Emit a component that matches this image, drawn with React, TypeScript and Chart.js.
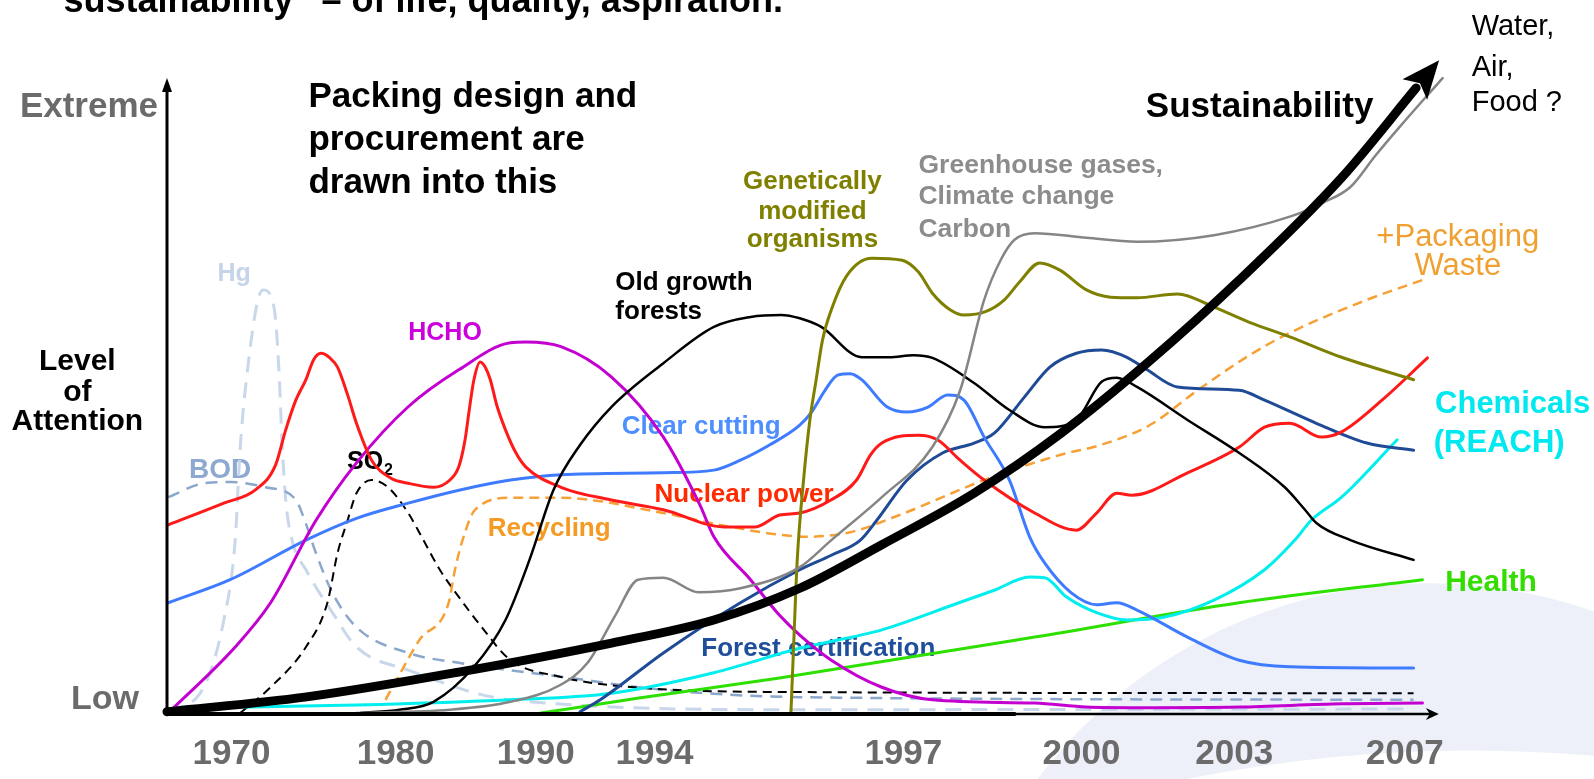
import React, { useEffect, useRef } from "react";
import { Chart, registerables } from "chart.js";
Chart.register(...registerables);

type P = [number, number];

// x = position along the timeline axis (0..100), y = level of attention (0 = low, ~96 = extreme)
const tickPositions = [5.1, 18.1, 29.2, 38.6, 58.3, 72.4, 84.5, 98.0];
const tickLabels = ["1970", "1980", "1990", "1994", "1997", "2000", "2003", "2007"];

const sustainability: P[] = [[0, 0.2], [10.9, 2.4], [23.1, 6.2], [35.2, 10.6], [43.3, 14.1], [50.1, 18.9], [56.6, 25.5], [63.9, 33.3], [70.8, 42.4], [77.6, 53.0], [84.9, 65.6], [93.0, 81.1], [98.9, 94.7]];
const greenhouse: P[] = [[15.0, 0], [22.4, 0.5], [27.2, 1.7], [31.1, 4.2], [33.3, 7.6], [35.5, 14.8], [37.3, 20.2], [39.3, 20.5], [42.1, 18.3], [45.4, 18.9], [50.1, 22.1], [52.6, 26.2], [56.6, 32.7], [60.6, 40.3], [62.8, 48.9], [64.7, 62.6], [66.0, 68.6], [67.1, 71.7], [68.7, 72.7], [72.8, 72.0], [76.8, 71.4], [82.9, 72.4], [88.9, 75.2], [91.5, 77.3], [93.7, 79.7], [95.7, 84.5], [97.6, 88.8], [101.0, 96.2]];
const gmo: P[] = [[49.4, 0], [49.6, 9.5], [49.9, 23.2], [50.4, 35.3], [50.9, 44.4], [51.4, 50.5], [51.9, 56.5], [52.6, 61.1], [53.8, 66.2], [55.8, 68.9], [58.2, 68.6], [59.5, 66.8], [60.6, 63.6], [62.0, 61.1], [63.1, 60.3], [64.8, 60.8], [66.3, 62.6], [67.5, 65.3], [69.1, 68.2], [70.7, 67.1], [72.8, 64.1], [74.7, 63.0], [76.8, 62.9], [80.0, 63.5], [82.9, 61.5], [85.7, 59.2], [88.9, 57.0], [93.0, 53.9], [98.7, 50.5]];
const oldGrowth: P[] = [[15.3, 0], [18.4, 0.5], [21.1, 1.7], [24.3, 7.0], [26.8, 14.1], [28.7, 23.2], [30.6, 33.8], [32.7, 40.6], [35.2, 46.4], [39.3, 53.0], [43.3, 58.5], [46.2, 60.0], [48.6, 60.3], [50.1, 59.8], [51.8, 58.5], [55.0, 53.9], [57.2, 53.9], [59.1, 54.2], [60.6, 53.8], [63.9, 50.0], [66.7, 45.9], [69.5, 43.3], [72.0, 44.4], [74.0, 50.2], [75.2, 50.8], [76.8, 49.4], [80.8, 44.4], [84.9, 39.4], [88.5, 34.2], [90.1, 30.8], [91.0, 28.8], [93.7, 26.2], [98.7, 23.2]];
const nuclear: P[] = [[0.1, 28.5], [4.5, 31.8], [7.0, 33.8], [8.6, 37.6], [9.4, 42.9], [10.2, 47.4], [11.0, 50.5], [11.6, 53.5], [12.2, 54.5], [12.9, 53.8], [13.5, 52.4], [14.3, 48.2], [15.0, 43.9], [16.2, 38.3], [17.7, 35.6], [19.1, 34.8], [21.1, 34.2], [22.4, 35.3], [23.1, 37.3], [23.6, 41.4], [23.9, 45.5], [24.3, 50.5], [24.8, 53.2], [25.2, 52.4], [25.6, 50.5], [26.1, 46.7], [26.8, 42.9], [27.6, 39.5], [28.4, 37.3], [31.2, 34.2], [35.1, 32.3], [39.3, 30.8], [44.1, 28.2], [46.6, 28.2], [48.5, 30.0], [50.1, 30.3], [52.6, 32.3], [54.6, 35.3], [55.7, 39.1], [56.6, 40.9], [59.5, 42.1], [61.0, 41.4], [62.8, 38.3], [64.7, 35.3], [68.7, 30.3], [72.0, 27.7], [73.6, 30.3], [75.2, 33.3], [76.4, 33.0], [80.8, 36.4], [84.9, 40.3], [86.9, 43.3], [88.9, 43.9], [91.4, 41.8], [93.0, 42.6], [96.2, 47.4], [99.8, 53.8]];
const hcho: P[] = [[0.1, 0], [5.4, 10.0], [8.2, 16.7], [11.8, 29.2], [15.0, 37.9], [19.1, 46.4], [23.1, 52.0], [27.2, 56.1], [28.4, 56.2], [31.2, 55.5], [35.2, 50.9], [39.3, 41.8], [42.2, 31.5], [43.3, 26.7], [46.2, 20.2], [48.5, 14.8], [50.1, 11.8], [52.6, 8.0], [56.6, 3.9], [60.6, 2.0], [68.7, 1.5], [72.8, 0.9], [76.8, 0.8], [84.9, 0.9], [93.0, 1.4], [99.4, 1.5]];
const clearCutting: P[] = [[0.1, 16.7], [5.0, 20.2], [11.0, 26.2], [15.0, 29.5], [19.1, 31.8], [23.2, 33.8], [27.2, 35.3], [31.2, 36.1], [39.3, 36.4], [43.3, 36.8], [45.4, 38.3], [47.7, 40.6], [50.1, 43.6], [51.0, 45.5], [52.1, 48.9], [53.1, 51.2], [54.1, 51.4], [55.0, 50.5], [57.0, 46.4], [58.6, 45.6], [60.3, 46.4], [61.8, 48.2], [63.1, 47.4], [64.7, 41.8], [66.7, 35.3], [68.3, 26.7], [69.5, 22.7], [71.6, 18.2], [73.6, 16.4], [75.2, 16.7], [76.8, 15.6], [80.8, 11.5], [84.9, 8.0], [88.9, 7.0], [98.7, 6.8]];
const forestCert: P[] = [[32.7, 0.2], [34.3, 2.0], [39.3, 9.1], [45.4, 16.7], [50.1, 21.7], [52.6, 23.9], [54.9, 26.2], [56.2, 29.2], [58.6, 35.3], [61.4, 39.4], [63.9, 40.9], [65.5, 42.4], [67.9, 47.9], [69.9, 52.4], [72.0, 54.5], [74.0, 55.0], [76.0, 53.9], [77.6, 52.0], [80.0, 49.4], [84.9, 48.9], [86.9, 47.4], [91.0, 43.9], [95.0, 40.9], [98.7, 39.8]];
const chemicals: P[] = [[2.5, 0.8], [15.0, 1.2], [27.2, 2.0], [35.2, 3.0], [43.3, 6.1], [50.1, 9.8], [56.6, 12.6], [62.7, 16.7], [65.5, 18.6], [68.3, 20.6], [69.5, 20.5], [71.2, 17.6], [73.6, 15.2], [76.0, 14.1], [78.9, 14.5], [82.9, 17.1], [86.9, 21.7], [89.3, 26.2], [90.6, 29.2], [93.0, 32.7], [97.4, 41.4]];
const health: P[] = [[29.6, 0], [37.5, 2.3], [48.5, 5.3], [68.7, 11.5], [84.9, 16.7], [99.4, 20.2]];
const recycling: P[] = [[17.3, 2.0], [18.4, 5.8], [20.0, 11.1], [22.3, 16.7], [22.8, 21.7], [23.4, 26.2], [24.4, 30.8], [27.2, 32.6], [31.2, 32.6], [39.3, 30.3], [43.8, 28.5], [48.5, 27.0], [50.6, 26.7], [54.1, 27.4], [58.0, 30.0], [64.7, 35.3], [70.7, 39.1], [73.9, 40.6], [77.8, 43.6], [81.6, 48.9], [85.7, 54.2], [88.9, 57.6], [95.0, 62.6], [99.4, 65.6]];
const so2: P[] = [[5.8, 0], [8.2, 3.9], [11.0, 10.0], [12.7, 16.7], [13.5, 24.2], [14.3, 29.2], [15.0, 33.3], [16.2, 35.3], [17.5, 34.2], [19.1, 30.3], [20.3, 26.2], [21.6, 21.7], [23.1, 17.6], [24.8, 13.3], [27.2, 8.0], [31.1, 5.5], [35.2, 4.2], [47.3, 3.2], [98.7, 3.0]];
const bod: P[] = [[0.1, 32.7], [2.9, 34.8], [5.0, 35.0], [7.8, 34.2], [10.2, 32.3], [10.9, 29.2], [11.8, 24.2], [13.1, 18.2], [15.0, 13.0], [19.1, 9.1], [23.1, 7.6], [31.2, 5.5], [39.3, 3.5], [50.1, 2.4], [98.7, 2.0]];
const hg: P[] = [[0.1, 0.2], [2.9, 3.9], [4.5, 14.1], [5.4, 26.2], [5.8, 40.3], [6.6, 55.5], [7.2, 62.6], [7.6, 64.1], [8.2, 63.3], [8.6, 59.5], [8.9, 50.5], [9.1, 41.4], [9.4, 32.3], [9.9, 26.2], [11.0, 21.7], [13.1, 15.2], [15.0, 10.0], [19.1, 6.5], [27.2, 2.0], [50.1, 0.5], [98.7, 0.6]];

const FONT = '"Liberation Sans", Arial, Helvetica, sans-serif';

const series = [
  { name: "Sustainability", data: sustainability, color: "#000000", width: 9, dash: [] as number[] },
  { name: "Greenhouse gases", data: greenhouse, color: "#858585", width: 2.5, dash: [] },
  { name: "GMO", data: gmo, color: "#7f7f00", width: 3, dash: [] },
  { name: "Old growth forests", data: oldGrowth, color: "#000000", width: 2.5, dash: [] },
  { name: "Nuclear power", data: nuclear, color: "#ff1a1a", width: 3, dash: [] },
  { name: "HCHO", data: hcho, color: "#c300d0", width: 3, dash: [] },
  { name: "Clear cutting", data: clearCutting, color: "#3f7bff", width: 3, dash: [] },
  { name: "Forest certification", data: forestCert, color: "#1f4a96", width: 3, dash: [] },
  { name: "Chemicals", data: chemicals, color: "#00eeee", width: 3, dash: [] },
  { name: "Health", data: health, color: "#2ee000", width: 3, dash: [] },
  { name: "Recycling", data: recycling, color: "#f7a035", width: 2.5, dash: [10, 6] },
  { name: "SO2", data: so2, color: "#000000", width: 2, dash: [9, 6] },
  { name: "BOD", data: bod, color: "#8ba7cc", width: 2.5, dash: [12, 8] },
  { name: "Hg", data: hg, color: "#c9d7ea", width: 3, dash: [16, 10] },
];

type Label = { t: string; x: number; y: number; c: string; s: number; b?: boolean; a?: CanvasTextAlign };
const labels: Label[] = [
  { t: "Extreme", x: -0.71, y: 91.7, c: "#6b6b6b", s: 35, b: true, a: "right" },
  { t: "Low", x: -7.6, y: 2.1, c: "#6b6b6b", s: 34, b: true },
  { t: "Level", x: -7.1, y: 53.2, c: "#000", s: 30, b: true, a: "center" },
  { t: "of", x: -7.1, y: 48.6, c: "#000", s: 30, b: true, a: "center" },
  { t: "Attention", x: -7.1, y: 44.1, c: "#000", s: 30, b: true, a: "center" },
  { t: "Packing design and", x: 11.2, y: 93.3, c: "#000", s: 35, b: true },
  { t: "procurement are", x: 11.2, y: 86.8, c: "#000", s: 35, b: true },
  { t: "drawn into this", x: 11.2, y: 80.3, c: "#000", s: 35, b: true },
  { t: "Sustainability", x: 77.5, y: 91.7, c: "#000", s: 35, b: true },
  { t: "Water,", x: 103.3, y: 103.9, c: "#000", s: 29 },
  { t: "Air,", x: 103.3, y: 97.7, c: "#000", s: 29 },
  { t: "Food ?", x: 103.3, y: 92.4, c: "#000", s: 29 },
  { t: "Hg", x: 4.0, y: 66.5, c: "#c5d4e8", s: 25, b: true },
  { t: "BOD", x: 1.74, y: 36.8, c: "#8ea9cf", s: 28, b: true },
  { t: "HCHO", x: 19.1, y: 57.6, c: "#cc00dd", s: 25, b: true },
  { t: "Old growth", x: 35.5, y: 65.2, c: "#000", s: 26, b: true },
  { t: "forests", x: 35.5, y: 60.8, c: "#000", s: 26, b: true },
  { t: "Genetically", x: 51.1, y: 80.5, c: "#808000", s: 26, b: true, a: "center" },
  { t: "modified", x: 51.1, y: 75.9, c: "#808000", s: 26, b: true, a: "center" },
  { t: "organisms", x: 51.1, y: 71.7, c: "#808000", s: 26, b: true, a: "center" },
  { t: "Greenhouse gases,", x: 59.5, y: 83.0, c: "#8c8c8c", s: 26.5, b: true },
  { t: "Climate change", x: 59.5, y: 78.2, c: "#8c8c8c", s: 26.5, b: true },
  { t: "Carbon", x: 59.5, y: 73.2, c: "#8c8c8c", s: 26.5, b: true },
  { t: "+Packaging", x: 102.2, y: 72.1, c: "#f0a030", s: 31, a: "center" },
  { t: "Waste", x: 102.2, y: 67.6, c: "#f0a030", s: 31, a: "center" },
  { t: "Chemicals", x: 100.4, y: 46.7, c: "#00e8f0", s: 31, b: true },
  { t: "(REACH)", x: 100.3, y: 40.8, c: "#00e8f0", s: 31, b: true },
  { t: "Health", x: 101.2, y: 19.8, c: "#33dd00", s: 30, b: true },
  { t: "Clear cutting", x: 36.0, y: 43.3, c: "#4d8fff", s: 26, b: true },
  { t: "Nuclear power", x: 38.6, y: 33.0, c: "#ff2a00", s: 26, b: true },
  { t: "Recycling", x: 25.4, y: 27.9, c: "#f59a23", s: 26, b: true },
  { t: "Forest certification", x: 42.3, y: 9.7, c: "#1f4e9a", s: 26, b: true },
];

const bgPlugin = {
  id: "bg",
  beforeDraw(chart: any) {
    const { ctx, width, height } = chart;
    const xs = chart.scales.x, ys = chart.scales.y;
    const unit = xs.getPixelForValue(1) - xs.getPixelForValue(0);
    ctx.save();
    ctx.fillStyle = "#ffffff";
    ctx.fillRect(0, 0, width, height);
    // decorative pale crescent in the lower right corner
    ctx.fillStyle = "#edf0f8";
    ctx.beginPath();
    ctx.arc(xs.getPixelForValue(100.0), ys.getPixelForValue(-54.8), 38.9 * unit, 0, Math.PI * 2);
    ctx.fill();
    ctx.fillStyle = "#ffffff";
    ctx.beginPath();
    ctx.arc(xs.getPixelForValue(103.2), ys.getPixelForValue(-220), 112.0 * unit, 0, Math.PI * 2);
    ctx.fill();
    ctx.restore();
  },
  beforeDatasetsDraw(chart: any) {
    const { ctx } = chart;
    const xs = chart.scales.x, ys = chart.scales.y;
    ctx.save();
    ctx.textBaseline = "middle";
    for (const l of labels) {
      ctx.font = `${l.b ? "bold " : ""}${l.s}px ${FONT}`;
      ctx.fillStyle = l.c;
      ctx.textAlign = l.a || "left";
      ctx.fillText(l.t, xs.getPixelForValue(l.x), ys.getPixelForValue(l.y));
    }
    // SO2 with subscript
    ctx.textAlign = "left";
    ctx.fillStyle = "#000";
    ctx.font = `bold 25px ${FONT}`;
    const sx = xs.getPixelForValue(14.25), sy = ys.getPixelForValue(38.0);
    ctx.fillText("SO", sx, sy);
    const w = ctx.measureText("SO").width;
    ctx.font = `bold 16px ${FONT}`;
    ctx.fillText("2", sx + w + 1, sy + 8);
    // clipped headline at the top
    ctx.font = `bold 36px ${FONT}`;
    ctx.textBaseline = "alphabetic";
    ctx.fillText("sustainability\u201D \u2013 of life, quality, aspiration.", xs.getPixelForValue(-8.2), ys.getPixelForValue(106.2));
    ctx.restore();
  },
  afterDatasetsDraw(chart: any) {
    const { ctx } = chart;
    const xs = chart.scales.x, ys = chart.scales.y;
    const x0 = xs.getPixelForValue(0), y0 = ys.getPixelForValue(0) + 1;
    const yTop = ys.getPixelForValue(95.6), xEnd = xs.getPixelForValue(100.7);
    const xMid = xs.getPixelForValue(67.2);
    ctx.save();
    ctx.strokeStyle = "#000";
    ctx.fillStyle = "#000";
    ctx.lineWidth = 3;
    ctx.beginPath();
    ctx.moveTo(x0, y0);
    ctx.lineTo(x0, yTop + 6);
    ctx.stroke();
    ctx.lineWidth = 4;
    ctx.beginPath();
    ctx.moveTo(x0 - 1, y0);
    ctx.lineTo(xMid, y0);
    ctx.stroke();
    ctx.lineWidth = 2.5;
    ctx.beginPath();
    ctx.moveTo(xMid - 2, y0);
    ctx.lineTo(xEnd - 8, y0);
    ctx.stroke();
    ctx.beginPath();
    ctx.moveTo(x0, yTop - 4);
    ctx.lineTo(x0 - 5, yTop + 10);
    ctx.lineTo(x0 + 5, yTop + 10);
    ctx.closePath();
    ctx.fill();
    ctx.beginPath();
    ctx.moveTo(xEnd, y0);
    ctx.lineTo(xEnd - 13, y0 - 6);
    ctx.lineTo(xEnd - 9, y0);
    ctx.lineTo(xEnd - 13, y0 + 6);
    ctx.closePath();
    ctx.fill();
    // arrow head of the sustainability curve
    const pts = chart.getDatasetMeta(0).data;
    const a = pts[pts.length - 2], b = pts[pts.length - 1];
    let dx = b.x - a.x, dy = b.y - a.y;
    const len = Math.hypot(dx, dy);
    dx /= len; dy /= len;
    const L = 36, W = 16, N = 6;
    ctx.beginPath();
    ctx.moveTo(b.x + dx * L, b.y + dy * L);
    ctx.lineTo(b.x - dy * W - dx * 2, b.y + dx * W - dy * 2);
    ctx.lineTo(b.x + dx * N, b.y + dy * N);
    ctx.lineTo(b.x + dy * W - dx * 2, b.y - dx * W - dy * 2);
    ctx.closePath();
    ctx.fill();
    // year labels
    ctx.font = `bold 35px ${FONT}`;
    ctx.fillStyle = "#6b6b6b";
    ctx.textAlign = "center";
    ctx.textBaseline = "middle";
    tickPositions.forEach((p, i) => {
      ctx.fillText(tickLabels[i], xs.getPixelForValue(p), ys.getPixelForValue(-6.2));
    });
    ctx.restore();
  },
};

export default function App() {
  const ref = useRef<HTMLCanvasElement>(null);
  useEffect(() => {
    document.body.style.margin = "0";
    const canvas = ref.current!;
    const chart = new Chart(canvas, {
      type: "line",
      data: {
        datasets: series.map((s, i) => ({
          label: s.name,
          data: s.data.map(([x, y]) => ({ x, y })),
          borderColor: s.color,
          backgroundColor: s.color,
          borderWidth: s.width,
          borderDash: s.dash,
          borderCapStyle: s.dash.length ? "butt" : "round",
          borderJoinStyle: "round",
          cubicInterpolationMode: "monotone",
          tension: 0.4,
          pointRadius: 0,
          fill: false,
          clip: false,
          order: i,
        })),
      } as any,
      options: {
        animation: false,
        responsive: false,
        maintainAspectRatio: false,
        layout: { padding: { left: 167, right: 164, top: 53, bottom: 66 } },
        scales: {
          x: { type: "linear", min: 0, max: 100, display: false },
          y: { type: "linear", min: 0, max: 100, display: false },
        },
        plugins: { legend: { display: false }, tooltip: { enabled: false } },
      },
      plugins: [bgPlugin],
    });
    return () => chart.destroy();
  }, []);
  return (
    <div style={{ position: "absolute", left: 0, top: 0, width: 1594, height: 779, background: "#fff", overflow: "hidden" }}>
      <canvas ref={ref} width={1594} height={779} style={{ display: "block" }} />
    </div>
  );
}
